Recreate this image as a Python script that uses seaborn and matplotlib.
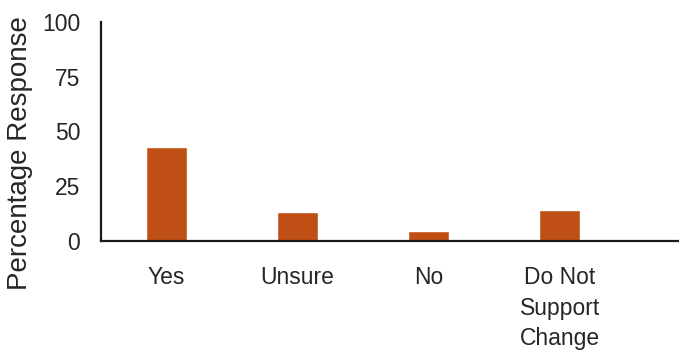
import matplotlib
matplotlib.use("Agg")
import matplotlib.pyplot as plt
import seaborn as sns
import pandas as pd

categories = ["Yes", "Unsure", "No", "Do Not\nSupport\nChange"]
values = [42.8, 13.4, 4.7, 14.2]
yticks = [0, 25, 50, 75, 100]

sns.set_theme(style="white")
plt.rcParams['font.family'] = ['Liberation Sans', 'DejaVu Sans']

df = pd.DataFrame({"Response": categories, "Percentage": values})

fig = plt.figure(figsize=(6.79, 3.53), dpi=100)
ax = fig.add_axes([0.1487, 0.3173, 0.8513, 0.6204])
sns.barplot(data=df, x="Response", y="Percentage", color="#C04F15",
            width=0.31, saturation=1, ax=ax)

ax.set_ylim(0, 100)
ax.set_yticks(yticks)
ax.set_xlim(-0.5, 3.91)
ax.set_xlabel("")
ax.set_ylabel("Percentage Response", fontsize=20, color="#262626")
ax.yaxis.set_label_coords(-0.118, 0.40)
ax.tick_params(axis="y", length=0, pad=15, labelsize=16.5, labelcolor="#262626")
ax.tick_params(axis="x", length=0, pad=18, labelsize=16.5, labelcolor="#262626")
for lab in ax.get_xticklabels():
    lab.set_linespacing(1.42)
    lab.set_multialignment("center")
    lab.set_verticalalignment("top")

sns.despine(ax=ax, top=True, right=True)
for s in ["left", "bottom"]:
    ax.spines[s].set_color("#1a1a1a")
    ax.spines[s].set_linewidth(1.6)

fig.savefig("out.png", dpi=100)
